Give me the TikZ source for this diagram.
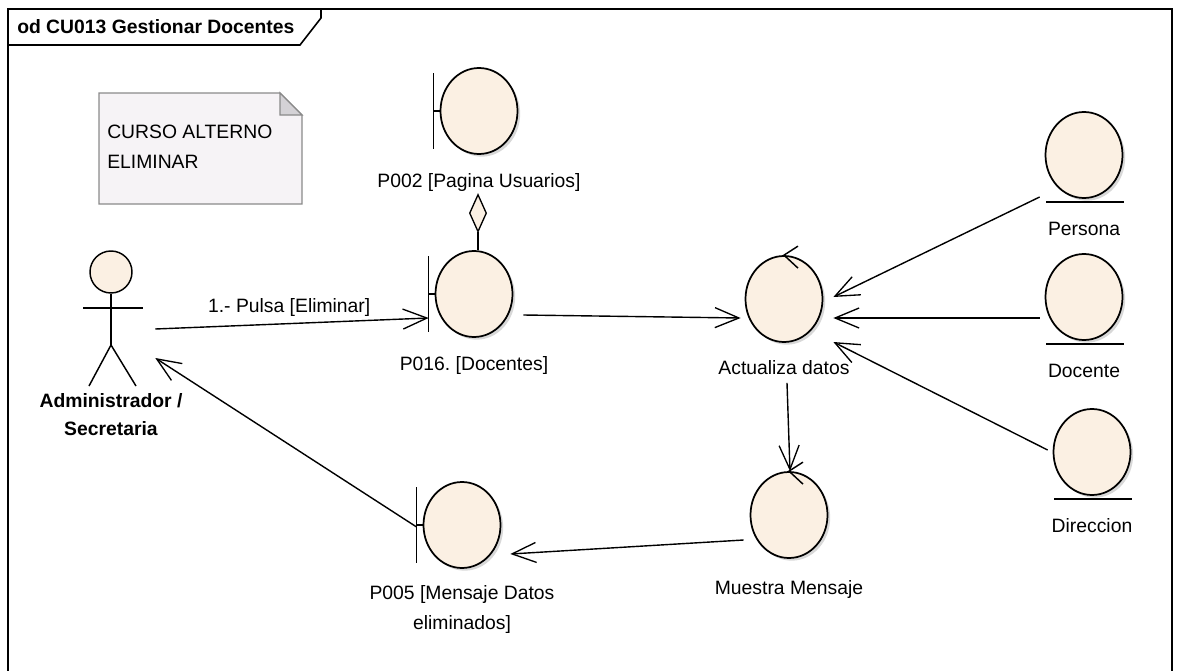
\documentclass[tikz,border=0pt]{standalone}
\usepackage{fontspec}
\setmainfont{Liberation Sans}
\frenchspacing
\usetikzlibrary{arrows.meta,positioning,shapes.geometric,calc,shadows}
\definecolor{cObj} {HTML}{FBF0E3}
\definecolor{cNote}{HTML}{F6F3F6}
\definecolor{cFold}{HTML}{D4D2D6}
\definecolor{cEdge}{HTML}{8A8A8A}
\tikzset{
  obj/.style  ={ellipse,draw=black,line width=1.3pt,fill=cObj,inner sep=0pt,
                minimum width=57.75pt,minimum height=64.5pt,
                drop shadow={shadow xshift=2pt,shadow yshift=-2pt,fill=black!30}},
  lbl/.style  ={font=\fontsize{14.5}{22.5}\selectfont,align=center,inner sep=0pt},
  actlbl/.style={lbl,font=\fontsize{14.5}{21}\selectfont\bfseries},
  glyph/.style={draw=black,line width=1.1pt},
  msg/.style  ={-{Straight Barb[length=18pt,width=15pt,line width=1pt]},draw=black,line width=1.05pt},
  notebox/.style={draw=cEdge,line width=1pt},
  frm/.style  ={draw=black,line width=1.2pt},
}
\begin{document}
\begin{tikzpicture}[x=0.75pt,y=-0.75pt,node distance=13pt]
\useasboundingbox (0,0) rectangle (1182,671);

% ---------------- frame ---------------------------------------------------
\draw[frm] (8,671) -- (8,9) -- (1172,9) -- (1172,671);
\draw[frm] (8,45) -- (300,45) -- (321,18) -- (321,9);
\node[lbl,font=\fontsize{14.5}{17}\selectfont\bfseries,anchor=west] (title) at (17,27)
  {od CU013 Gestionar Docentes};

% ---------------- note ----------------------------------------------------
\draw[notebox,fill=cNote] (99,93) -- (280,93) -- (302,115) -- (302,204) -- (99,204) -- cycle;
\draw[notebox,fill=cFold] (280,93) -- (280,115) -- (302,115) -- cycle;
\node[lbl,align=left,anchor=north west] (note) at (107,125) {CURSO ALTERNO\\ELIMINAR};

% ---------------- actor ---------------------------------------------------
\node[circle,draw=black,line width=1.1pt,fill=cObj,minimum size=31.5pt,inner sep=0pt]
  (head) at (111,272) {};
\draw[glyph] (head.south) -- (111,345) coordinate (hip);
\draw[glyph] (83,308) -- (143,308);
\draw[glyph] (89,386) -- (hip) -- (136,386);
\node[minimum width=64.5pt,minimum height=105pt,inner sep=0pt] (adm) at (112,317) {};
\node[actlbl,anchor=north] (admlbl) at (111,393) {Administrador /\\Secretaria};

% ---------------- boundaries, controls, entities --------------------------
\foreach \n/\x/\y in {p002/479/111, p016/474/294, p005/462/525,
                      act/784/299, mue/789/515,
                      per/1084/155, doc/1084/297, dir/1092/452}
  {\node[obj] (\n) at (\x,\y) {};}

% boundary bars
\foreach \n in {p002,p016,p005}{
  \coordinate (\n bar) at ($(\n.west)+(-6,0)$);
  \draw[glyph] (\n bar) -- (\n.west);
  \draw[glyph] ($(\n bar)+(0,-38)$) -- ($(\n bar)+(0,38)$);
}
% control arrows
\foreach \n in {act,mue}{
  \draw[glyph] ($(\n.north)+(14,-9)$) -- (\n.north) -- ($(\n.north)+(14,13)$);
}
% entity underlines
\foreach \n in {per,doc,dir}{
  \draw[glyph] ($(\n.center)+(-38,47)$) -- ($(\n.center)+(40,47)$);
}

% labels
\node[lbl,below=13.5pt of p002] (p002l) {P002 [Pagina Usuarios]};
\node[lbl,below=14pt of p016]  (p016l) {P016. [Docentes]};
\node[lbl,below=12pt of p005]  (p005l) {P005 [Mensaje Datos\\eliminados]};
\node[lbl,below=13pt of act]   (actl)  {Actualiza datos};
\node[lbl,below=16pt of mue]   (muel)  {Muestra Mensaje};
\foreach \n/\t in {per/Persona, doc/Docente, dir/Direccion}
  {\node[lbl,below=17pt of \n] (\n l) {\t};}

% ---------------- connectors ----------------------------------------------
\draw[black,line width=1pt,-{Diamond[length=30pt,width=13.5pt,fill=cObj,line width=1pt]}]
  ($(p016.north)+(4,0)$) -- ($(p016.north)+(4,-57)$);
\draw[msg] ($(adm.east)+(0,12)$) -- node[lbl,pos=0.49,above=5pt] (m1) {1.- Pulsa [Eliminar]}
  ($(p016bar)+(0,24)$);
\draw[msg] ($(p016.east)+(10,21)$) -- ($(act.west)+(-4,19)$);
\draw[msg] ($(per.west)+(-5,42)$) -- ($(act.east)+(10,-2)$);
\draw[msg] ($(doc.west)+(-5,21)$) -- ($(act.east)+(10,19)$);
\draw[msg] ($(dir.west)+(-5,-2)$) -- ($(act.east)+(10,43)$);
\draw[msg] ($(act.south)+(3,40)$) -- ($(mue.north)+(1,0)$);
\draw[msg] ($(mue.west)+(-6,25)$) -- ($(p005.east)+(9,29)$);
\draw[msg] ($(p005bar)+(0,2)$) -- ($(adm.east)+(0,41)$);
\end{tikzpicture}
\end{document}
